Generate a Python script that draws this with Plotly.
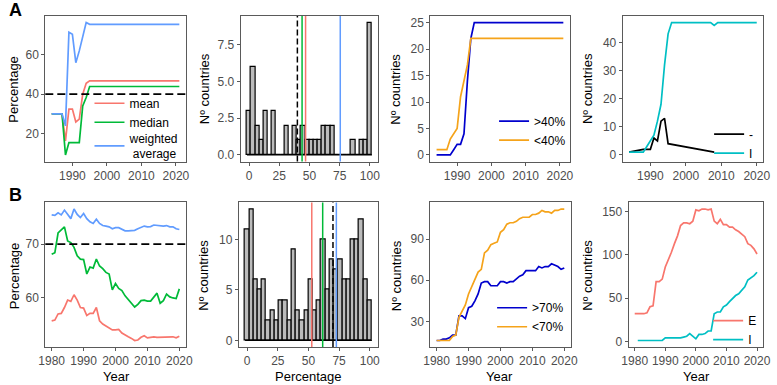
import numpy as np
import plotly.graph_objects as go

W, H = 777, 385
FONT = "Liberation Sans, Arial, Helvetica, sans-serif"
RED, GREEN, BLUE = "#F8766D", "#00BA38", "#619CFF"
CYAN = "#00BFC4"
DBLUE, ORANGE = "#0000CD", "#F5A31A"
BAR_FILL = "#BBBBBB"
AXC = "#5A5A5A"
TICKC = "#4D4D4D"

# ------------------------------------------------------------------ data
# Panel A1: percentages by year
years_a = list(range(1984, 2022))
mean_a = [30, 30, 30, 30, 16.2, 32.4, 32.4, 25.9, 27.3, 40, 45.5,
          46.8, 46.8, 46.8, 46.8, 46.8, 46.8, 46.8, 46.8, 46.8, 46.8,
          46.8, 46.8, 46.8, 46.8, 46.8, 46.8, 46.8, 46.8, 46.8, 46.8,
          46.8, 46.8, 46.8, 46.8, 46.8, 46.8, 46.8]
median_a = [30, 30, 30, 30, 9.1, 15.4, 15.4, 15.4, 15.4, 34, 38.3,
            43.9, 43.9, 43.9, 43.9, 43.9, 43.9, 43.9, 43.9, 43.9, 43.9,
            43.9, 43.9, 43.9, 43.9, 43.9, 43.9, 43.9, 43.9, 43.9, 43.9,
            43.9, 43.9, 43.9, 43.9, 43.9, 43.9, 43.9]
wavg_a = [30, 30, 30, 30, 23.9, 71.5, 70.5, 56, 62, 69, 76.4,
          75.5, 75.5, 75.5, 75.5, 75.5, 75.5, 75.5, 75.5, 75.5, 75.5,
          75.5, 75.5, 75.5, 75.5, 75.5, 75.5, 75.5, 75.5, 75.5, 75.5,
          75.5, 75.5, 75.5, 75.5, 75.5, 75.5, 75.5]
threshold_a = 40

# Panel A2: histogram counts (30 bins over 0-100)
hist_a = [3, 6, 2, 1, 3, 0, 3, 0, 0, 2, 0, 2, 1, 2, 1, 1, 1, 1, 2, 2,
          2, 0, 0, 0, 0, 1, 0, 1, 1, 9]

# Panel A3: counts above / below threshold
above_a = [0, 0, 0, 0, 0, 1, 2, 2, 4, 14, 22,
           25, 25, 25, 25, 25, 25, 25, 25, 25, 25,
           25, 25, 25, 25, 25, 25, 25, 25, 25, 25,
           25, 25, 25, 25, 25, 25, 25]
below_a = [1, 1, 1, 1, 3, 4, 5, 11, 14, 17, 22,
           22, 22, 22, 22, 22, 22, 22, 22, 22, 22,
           22, 22, 22, 22, 22, 22, 22, 22, 22, 22,
           22, 22, 22, 22, 22, 22, 22]

# Panel A4
years_dash_a = [1984, 1988, 1990, 1991, 1992, 1993, 1994, 1995, 2008]
dash_a = [1, 2, 2, 6, 5, 12, 13, 4, 1]
years_i_a = list(range(1984, 2021))
i_a = [1, 1, 1, 1, 1, 3, 5, 7, 12, 18, 32, 43,
       47, 47, 47, 47, 47, 47, 47, 47, 47, 47, 47, 47,
       46,
       47, 47, 47, 47, 47, 47, 47, 47, 47, 47, 47, 47]

# Panel B1
years_b = list(range(1980, 2021))
mean_b = [55.6, 55.75, 56.9, 57.0, 58.1, 59.5, 59.25, 60.5, 59.5, 58.1,
          58.0, 56.6, 57.0, 57.0, 58.1, 55.6, 55.0, 54.6, 54.2, 53.9,
          53.9, 54.0, 53.3, 52.9, 52.6, 52.3, 51.9, 52.0, 52.5, 52.8,
          52.4, 52.5, 52.6, 52.5, 52.5, 52.5, 52.6, 52.6, 52.6, 52.4,
          52.7]
median_b = [68.1, 68.4, 72.1, 72.6, 73.25, 70.6, 70.3, 69.4, 67.8, 67.2,
            67.1, 64.4, 65.7, 65.5, 67.2, 65.9, 65.4, 64.7, 64.4, 61.4,
            62.6, 61.7, 61.3, 60.3, 59.6, 59.0, 58.2, 58.7, 59.4, 59.5,
            59.3, 59.3, 60.0, 60.8, 58.9, 59.4, 60.6, 60.1, 59.9, 59.8,
            61.6]
wavg_b = [75.5, 75.4, 75.9, 75.5, 76.4, 75.5, 74.8, 76.6, 75.6, 75.0,
          75.75, 74.8, 74.2, 73.9, 74.7, 73.9, 73.5, 73.4, 73.25, 72.9,
          73.1, 73.1, 72.8, 72.5, 72.5, 72.6, 72.6, 72.9, 73.1, 73.4,
          73.25, 73.3, 73.6, 73.5, 73.4, 73.4, 73.5, 73.25, 73.25, 72.9,
          72.75]
threshold_b = 70

# Panel B2
hist_b = [11, 13, 6, 5, 6, 2, 3, 2, 4, 4, 2, 9, 3, 2, 3, 6, 3, 4, 10, 5,
          8, 7, 8, 6, 6, 10, 10, 12, 6, 4]

# Panel B3
above_b = [16, 16, 17, 17, 18, 20, 20, 34, 34, 32, 40, 41, 45, 50, 58, 59,
           59, 56, 56, 56, 59, 59, 58, 59, 59, 61, 63, 64, 67, 67, 67, 67,
           70, 69, 70, 70, 72, 71, 70, 68, 69]
below_b = [16, 16, 16, 16, 16, 19, 20, 33, 37, 42, 50, 55, 61, 66, 68, 80,
           82, 86, 87, 88, 95, 97, 101, 102, 102, 103, 105, 106, 106, 106,
           108, 108, 109, 111, 110, 110, 109, 111, 111, 112, 112]

# Panel B4
e_b = [32, 32, 32, 32, 33, 40, 41, 69, 69, 72, 86, 94, 103, 113, 122, 134,
       137, 137, 136, 139, 152, 151, 153, 153, 152, 153, 139, 136, 141, 135,
       135, 132, 132, 129, 127, 124, 121, 113, 111, 107, 101]
years_i_b = list(range(1981, 2021))
i_b = [1, 1, 1, 1, 1, 1, 1, 1, 1, 4, 4, 4, 4, 4, 4, 5, 6, 9, 6, 3, 8, 8, 9,
       12, 12, 32, 34, 34, 40, 42, 46, 50, 53, 55, 59, 63, 71, 73, 76, 80]

n_bins = 30
bin_centers = np.linspace(0, 100, n_bins)
bin_w = bin_centers[1] - bin_centers[0]

# ------------------------------------------------------------------ layout helpers
panels = {
    1: (39, 182, 16, 162), 2: (238, 378, 16, 162), 3: (431, 573, 16, 162), 4: (627, 770, 16, 162),
    5: (39, 182, 203, 348), 6: (236, 378, 203, 348), 7: (431, 574, 203, 348), 8: (633, 770, 203, 348),
}


def expand(lo, hi, f=0.05):
    d = hi - lo
    return [lo - f * d, hi + f * d]


def px(x):
    return x / W


def py(y):
    return 1 - y / H


def sfx(ax):
    return "" if ax == 1 else str(ax)


fig = go.Figure()
lw = 1.7


def line(x, y, color, name, ax, legend=None):
    fig.add_trace(go.Scatter(
        x=x, y=y, mode="lines", name=name, line=dict(color=color, width=lw),
        xaxis="x" + sfx(ax), yaxis="y" + sfx(ax),
        legend=legend if legend else "legend", showlegend=legend is not None, hoverinfo="skip"))


# A1
line(years_a, mean_a, RED, "mean", 1, "legend")
line(years_a, median_a, GREEN, "median", 1, "legend")
line(years_a, wavg_a, BLUE, "weighted<br> average", 1, "legend6")


def hist(counts, ax):
    fig.add_trace(go.Bar(
        x=bin_centers, y=counts, width=bin_w,
        marker=dict(color=BAR_FILL, line=dict(color="black", width=1.2)),
        xaxis="x" + sfx(ax), yaxis="y" + sfx(ax), showlegend=False, hoverinfo="skip"))
    fig.add_trace(go.Scatter(
        x=[bin_centers[0] - bin_w / 2, bin_centers[-1] + bin_w / 2], y=[0, 0],
        mode="lines", line=dict(color="black", width=1.2),
        xaxis="x" + sfx(ax), yaxis="y" + sfx(ax), showlegend=False, hoverinfo="skip"))


hist(hist_a, 2)
hist(hist_b, 6)

# A3
line(years_a, above_a, DBLUE, ">40%", 3, "legend2")
line(years_a, below_a, ORANGE, "<40%", 3, "legend2")
# A4
line(years_dash_a, dash_a, "black", "-", 4, "legend3")
line(years_i_a, i_a, CYAN, "I", 4, "legend3")
# B1
line(years_b, mean_b, RED, "mean", 5)
line(years_b, median_b, GREEN, "median", 5)
line(years_b, wavg_b, BLUE, "weighted average", 5)
# B3
line(years_b, above_b, DBLUE, ">70%", 7, "legend4")
line(years_b, below_b, ORANGE, "<70%", 7, "legend4")
# B4
line(years_b, e_b, RED, "E", 8, "legend5")
line(years_i_b, i_b, CYAN, "I", 8, "legend5")

shapes = []


def hline(val, ax):
    shapes.append(dict(type="line", xref=f"x{sfx(ax)} domain", x0=0, x1=1, yref=f"y{sfx(ax)}", y0=val, y1=val,
                       line=dict(color="black", width=1.7, dash="8px,4px")))


def vline(val, ax, color, dash=None):
    shapes.append(dict(type="line", yref=f"y{sfx(ax)} domain", y0=0, y1=1, xref=f"x{sfx(ax)}", x0=val, x1=val,
                       line=dict(color=color, width=1.5, dash=dash or "solid")))


hline(threshold_a, 1)
hline(threshold_b, 5)
vline(threshold_a, 2, "black", "6px,3px")
vline(median_a[-1], 2, GREEN)
vline(mean_a[-1], 2, RED)
vline(wavg_a[-1], 2, BLUE)
vline(mean_b[-1], 6, RED)
vline(median_b[-1], 6, GREEN)
vline(threshold_b, 6, "black", "6px,3px")
vline(wavg_b[-1], 6, BLUE)

# axis ranges and ticks
hist_xr = expand(bin_centers[0] - bin_w / 2, bin_centers[-1] + bin_w / 2)
cfg = {
    1: dict(xr=expand(min(years_a), max(years_a)), yr=expand(min(median_a), max(wavg_a)),
            xt=[1990, 2000, 2010, 2020], yt=[20, 40, 60]),
    2: dict(xr=hist_xr, yr=expand(0, max(hist_a)), xt=[0, 25, 50, 75, 100], yt=[0, 2.5, 5, 7.5], yfmt=".1f"),
    3: dict(xr=expand(min(years_a), max(years_a)), yr=expand(0, max(above_a)),
            xt=[1990, 2000, 2010, 2020], yt=[0, 5, 10, 15, 20, 25]),
    4: dict(xr=expand(min(years_i_a), max(years_i_a)), yr=expand(0, max(i_a)),
            xt=[1990, 2000, 2010, 2020], yt=[0, 10, 20, 30, 40]),
    5: dict(xr=expand(min(years_b), max(years_b)), yr=expand(min(mean_b), max(wavg_b)),
            xt=[1980, 1990, 2000, 2010, 2020], yt=[60, 70]),
    6: dict(xr=hist_xr, yr=expand(0, max(hist_b)), xt=[0, 25, 50, 75, 100], yt=[0, 5, 10]),
    7: dict(xr=expand(min(years_b), max(years_b)), yr=expand(min(below_b), max(below_b)),
            xt=[1980, 1990, 2000, 2010, 2020], yt=[30, 60, 90]),
    8: dict(xr=expand(min(years_b), max(years_b)), yr=expand(min(i_b), max(e_b)),
            xt=[1980, 1990, 2000, 2010, 2020], yt=[0, 50, 100, 150]),
}

layout = {}
axis_common = dict(showline=True, mirror=True, linecolor=AXC, linewidth=1, showgrid=False,
                   zeroline=False, ticks="outside", ticklen=3, tickwidth=1, tickcolor=AXC,
                   tickfont=dict(family=FONT, size=12, color=TICKC), fixedrange=True)
for k, (x0, x1, y0, y1) in panels.items():
    s = sfx(k)
    c = cfg[k]
    layout["xaxis" + s] = dict(domain=[px(x0), px(x1)], range=c["xr"], anchor="y" + s,
                               tickvals=c["xt"], **axis_common)
    layout["yaxis" + s] = dict(domain=[py(y1), py(y0)], range=c["yr"], anchor="x" + s,
                               tickvals=c["yt"], tickformat=c.get("yfmt", ""), **axis_common)

annotations = []


def text(x, y, t, size=13, angle=0, bold=False, xanchor="center"):
    annotations.append(dict(x=px(x), y=py(y), xref="paper", yref="paper", text=("<b>%s</b>" % t) if bold else t,
                            showarrow=False, textangle=angle, xanchor=xanchor, yanchor="middle",
                            font=dict(family=FONT, size=size, color="black")))


text(9, 10, "A", 18, bold=True)
text(9, 196, "B", 18, bold=True)
text(7, 89, "Percentage", angle=-90)
text(7, 276, "Percentage", angle=-90)
for xx, yy in [(201, 89), (396, 89), (591, 89), (200, 276), (396, 276), (591, 276)]:
    text(xx, yy, "Nº countries", angle=-90)
text(111, 377, "Year")
text(307, 377, "Percentage")
text(502, 377, "Year")
text(702, 377, "Year")


def legend(xl, ytop):
    return dict(x=px(xl), y=py(ytop), xanchor="left", yanchor="top", bgcolor="rgba(0,0,0,0)",
                font=dict(family=FONT, size=12, color="black"), itemwidth=30, tracegroupgap=0)


layout.update(
    legend=legend(84, 89),
    legend6=legend(84, 124),
    legend2=legend(496, 107),
    legend3=legend(715, 120),
    legend4=legend(494, 294),
    legend5=legend(714, 307),
)

fig.update_layout(
    width=W, height=H, margin=dict(l=0, r=0, t=0, b=0),
    paper_bgcolor="white", plot_bgcolor="white", bargap=0,
    font=dict(family=FONT), shapes=shapes, annotations=annotations, **layout)

fig.write_html("out.html")
